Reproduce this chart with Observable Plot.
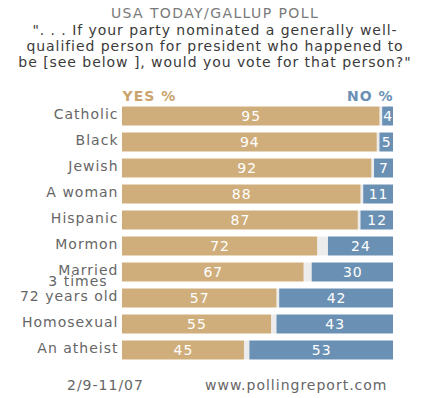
<!DOCTYPE html>
<html>
<head>
<meta charset="utf-8">
<script src="https://cdn.jsdelivr.net/npm/d3@7"></script>
<script src="https://cdn.jsdelivr.net/npm/@observablehq/plot@0.6"></script>
<style>
  body { margin: 0; background: #fff; font-family: "DejaVu Sans", Verdana, sans-serif; }
  #wrap { width: 430px; height: 398px; position: relative; overflow: hidden; }
  .title { position: absolute; top: 4px; left: 0; width: 430px; text-align: center; font-size: 14px; color: #7a7a7a; letter-spacing: 1.4px; line-height: 18px; }
  .sub { position: absolute; top: 22px; left: 0; width: 430px; text-align: center; font-size: 14px; color: #3a3a3a; letter-spacing: 0.95px; line-height: 16px; }
  #chart { position: absolute; top: 80px; left: 0; }
  .foot { position: absolute; top: 375px; font-size: 14px; color: #666; letter-spacing: 1px; line-height: 20px; }
</style>
</head>
<body>
<div id="wrap">
  <div class="title">USA TODAY/GALLUP POLL</div>
  <div class="sub">". . . If your party nominated a generally well-<br>qualified person for president who happened to<br>be [see below ], would you vote for that person?"</div>
  <div id="chart"></div>
  <div class="foot" style="left:67px">2/9-11/07</div>
  <div class="foot" style="left:205px">www.pollingreport.com</div>
</div>
<script>
const categories = ["Catholic", "Black", "Jewish", "A woman", "Hispanic", "Mormon", "Married\n3 times\u00a0\u00a0", "72 years old", "Homosexual", "An atheist"];
const yesValues = [95, 94, 92, 88, 87, 72, 67, 57, 55, 45];
const noValues = [4, 5, 7, 11, 12, 24, 30, 42, 43, 53];
const legendLabels = ["YES %", "NO %"];

const data = categories.map((c, i) => ({cat: c, yes: yesValues[i], no: noValues[i]}));
const tan = "#cfae7c", blue = "#6a90b4";
const font = "DejaVu Sans, Verdana, sans-serif";

const chart = Plot.plot({
  width: 430,
  height: 295,
  margin: 0,
  style: {fontFamily: font, background: "transparent"},
  x: {domain: [0, 100], range: [122, 393], axis: null},
  y: {domain: categories, range: [19.5, 286.5], padding: 0.27, round: false, axis: null},
  marks: [
    Plot.barX(data, {y: "cat", x1: "yes", x2: d => 100 - d.no, fill: "#ececec"}),
    Plot.barX(data, {y: "cat", x1: 0, x2: "yes", fill: tan}),
    Plot.barX(data, {y: "cat", x1: d => 100 - d.no, x2: 100, fill: blue}),
    Plot.text(data, {y: "cat", x: d => d.yes / 2, text: d => String(d.yes), fill: "white", fontSize: 14}),
    Plot.text(data, {y: "cat", x: d => 100 - d.no / 2, text: d => String(d.no), fill: "white", fontSize: 14}),
    Plot.text(data, {y: "cat", x: 0, text: "cat", textAnchor: "end", dx: -4, lineAnchor: "top", dy: -5, lineHeight: 0.78, fill: "#666", fontSize: 14}),
    Plot.text([legendLabels[0]], {x: 0, frameAnchor: "top", lineAnchor: "middle", dy: 16, text: d => d, textAnchor: "start", fill: "#c9a46c", fontWeight: "bold", fontSize: 14}),
    Plot.text([legendLabels[1]], {x: 100, frameAnchor: "top", lineAnchor: "middle", dy: 16, text: d => d, textAnchor: "end", fill: blue, fontWeight: "bold", fontSize: 14})
  ]
});
chart.querySelectorAll("text").forEach(t => t.style.letterSpacing = "1px");
document.getElementById("chart").appendChild(chart);
</script>
</body>
</html>
